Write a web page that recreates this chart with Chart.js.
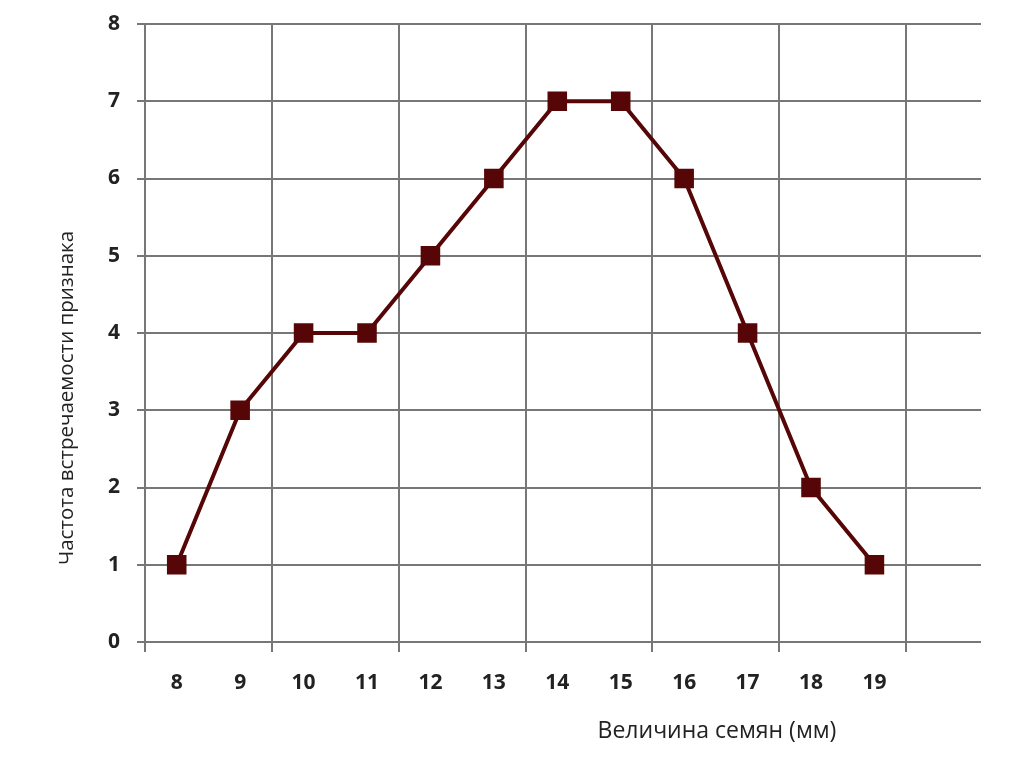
<!DOCTYPE html>
<html lang="ru">
<head>
    <meta charset="UTF-8">
    <title>Величина семян</title>
    <script src="https://cdn.jsdelivr.net/npm/chart.js"></script>
    <style>
        html, body { margin: 0; padding: 0; background: #fff; }
        #wrap { width: 1024px; height: 767px; }
    </style>
</head>
<body>
    <div id="wrap"><canvas id="seedChart" width="1024" height="767"></canvas></div>

    <script>
        // data
        const seedSizes = [8, 9, 10, 11, 12, 13, 14, 15, 16, 17, 18, 19];
        const frequency = [1, 3, 4, 4, 5, 6, 7, 7, 6, 4, 2, 1];
        const xGridLines = [7.5, 9.5, 11.5, 13.5, 15.5, 17.5, 19.5];
        const yTicks = [0, 1, 2, 3, 4, 5, 6, 7, 8];
        const xTitle = 'Величина семян (мм)';
        const yTitle = 'Частота встречаемости признака';

        const gridGray = '#777';
        const lineColor = '#560606';

        // axis titles sit off-centre in the original, so draw them by hand
        const titlesPlugin = {
            id: 'titles',
            afterDraw(chart) {
                const ctx = chart.ctx;
                ctx.save();
                ctx.fillStyle = '#222';
                ctx.textAlign = 'center';
                ctx.textBaseline = 'middle';
                ctx.font = '23px "Open Sans"';
                ctx.fillText(xTitle, 717, 731);
                ctx.translate(67, 398);
                ctx.rotate(-Math.PI / 2);
                ctx.font = '20.5px "Open Sans"';
                ctx.fillText(yTitle, 0, 0);
                ctx.restore();
            }
        };

        new Chart(document.getElementById('seedChart'), {
            type: 'line',
            data: {
                datasets: [{
                    data: seedSizes.map((s, i) => ({ x: s, y: frequency[i] })),
                    borderColor: lineColor,
                    backgroundColor: lineColor,
                    borderWidth: 4,
                    pointStyle: 'rect',
                    pointRadius: 11,
                    pointHoverRadius: 11,
                    tension: 0
                }]
            },
            options: {
                responsive: false,
                animation: false,
                layout: { padding: { left: 0, top: 24, right: 43, bottom: 0 } },
                plugins: {
                    legend: { display: false },
                    tooltip: { enabled: false }
                },
                scales: {
                    x: {
                        type: 'linear',
                        min: 7.5,
                        max: 20.68,
                        afterBuildTicks: (scale) => {
                            const vals = seedSizes.concat(xGridLines).sort((a, b) => a - b);
                            scale.ticks = vals.map(v => ({ value: v }));
                        },
                        afterFit: (scale) => {
                            scale.height = 125;
                            scale.paddingLeft = 0;
                            scale.paddingRight = 0;
                        },
                        grid: {
                            color: (c) => xGridLines.includes(c.tick.value) ? gridGray : 'rgba(0,0,0,0)',
                            lineWidth: 2,
                            tickLength: 10
                        },
                        border: { display: false },
                        ticks: {
                            autoSkip: false,
                            maxRotation: 0,
                            padding: 18,
                            color: '#222',
                            font: { family: 'Open Sans', size: 21, weight: 'bold' },
                            callback: (v) => Number.isInteger(v) ? String(v) : ''
                        }
                    },
                    y: {
                        min: 0,
                        max: 8,
                        afterBuildTicks: (scale) => {
                            scale.ticks = yTicks.map(v => ({ value: v }));
                        },
                        afterFit: (scale) => {
                            scale.width = 145;
                            scale.paddingTop = 0;
                            scale.paddingBottom = 0;
                        },
                        grid: {
                            color: gridGray,
                            lineWidth: 2,
                            tickLength: 8
                        },
                        border: { color: gridGray, width: 2 },
                        ticks: {
                            padding: 17,
                            color: '#222',
                            font: { family: 'Open Sans', size: 21, weight: 'bold' }
                        }
                    }
                }
            },
            plugins: [titlesPlugin]
        });
    </script>
</body>
</html>
